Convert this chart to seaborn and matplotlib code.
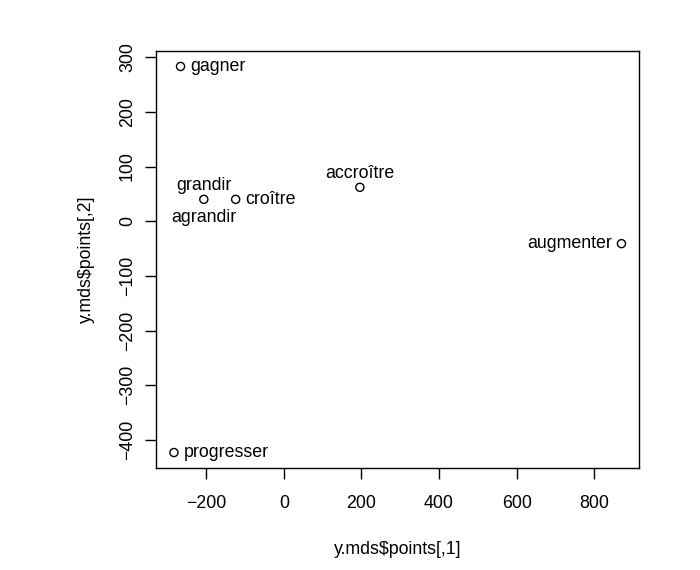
import numpy as np
import pandas as pd
import matplotlib
matplotlib.use("Agg")
import matplotlib.pyplot as plt
import seaborn as sns

# ─── Data ────────────────────────────────────────────────────────────────────
words = ["gagner", "grandir", "agrandir", "croître", "accroître", "augmenter", "progresser"]
dim1 = [-266, -206, -206, -124, 196, 870, -283]
dim2 = [283, 40, 40, 40, 62, -41, -423]
x_ticks = [-200, 0, 200, 400, 600, 800]
y_ticks = [-400, -300, -200, -100, 0, 100, 200, 300]

# label placement like R's text(pos=...): 1 below, 2 left, 3 above, 4 right
label_pos = {"gagner": 4, "grandir": 3, "agrandir": 1, "croître": 4,
             "accroître": 3, "augmenter": 2, "progresser": 4}

# ─── Style ───────────────────────────────────────────────────────────────────
FS = 12.8
sns.set_theme(style="white")
plt.rcParams.update({
    "font.family": ["Liberation Sans", "DejaVu Sans"],
    "font.size": FS,
    "axes.edgecolor": "black",
    "axes.linewidth": 1.0,
    "xtick.color": "black",
    "ytick.color": "black",
    "axes.labelcolor": "black",
    "text.color": "black",
})

df = pd.DataFrame({"word": words, "d1": dim1, "d2": dim2})
# identical coordinates share one circle (as in the original plot)
pts = df.drop_duplicates(subset=["d1", "d2"])

fig = plt.figure(figsize=(7, 5.7), dpi=100)
ax = fig.add_axes([0.2229, 0.179, 0.6905, 0.7315])

sns.scatterplot(data=pts, x="d1", y="d2", ax=ax, s=34, marker="o",
                facecolors="none", edgecolor="black", linewidth=1.0)

offsets = {1: ((0, -7), "center", "top"),
           2: ((-7, 0), "right", "center"),
           3: ((0, 4), "center", "bottom"),
           4: ((7, 0), "left", "center")}
for w, x, y in zip(words, dim1, dim2):
    off, ha, va = offsets[label_pos[w]]
    ax.annotate(w, (x, y), xytext=off, textcoords="offset points",
                ha=ha, va=va, fontsize=FS)

# R-style axes range (4% padding)
xr = max(dim1) - min(dim1)
yr = max(dim2) - min(dim2)
ax.set_xlim(min(dim1) - 0.04 * xr, max(dim1) + 0.04 * xr)
ax.set_ylim(min(dim2) - 0.04 * yr, max(dim2) + 0.04 * yr)

ax.set_xticks(x_ticks)
ax.set_yticks(y_ticks)
ax.set_xticklabels([f"{t}".replace("-", "\u2212") for t in x_ticks])
ax.set_yticklabels([f"{t}".replace("-", "\u2212") for t in y_ticks],
                   rotation=90, va="center")
ax.tick_params(axis="both", direction="out", length=8, width=1.0,
               labelsize=FS, bottom=True, left=True)
ax.tick_params(axis="x", pad=11.5)
ax.tick_params(axis="y", pad=6.5)

ax.set_xlabel(r"y.mds\$points[,1]", fontsize=FS, labelpad=21)
ax.set_ylabel(r"y.mds\$points[,2]", fontsize=FS, labelpad=17)

for s in ax.spines.values():
    s.set_visible(True)
    s.set_color("black")

fig.savefig("out.png", dpi=100, facecolor="white")
